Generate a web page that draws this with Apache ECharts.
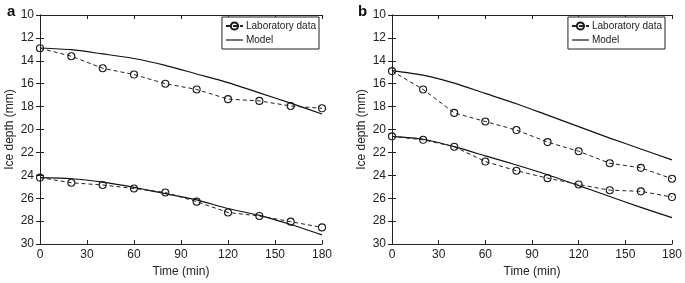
<!DOCTYPE html>
<html>
<head>
<meta charset="utf-8">
<script src="https://cdn.jsdelivr.net/npm/echarts@6/dist/echarts.min.js"></script>
<style>
  html, body { margin: 0; padding: 0; background: #fff; }
  #chart { width: 685px; height: 283px; }
</style>
</head>
<body>
<div id="chart"></div>
<script>
// time of each measurement (min)
var times = [0, 20, 40, 60, 80, 100, 120, 140, 160, 180];
var xTicks = [0, 30, 60, 90, 120, 150, 180];
var yTicks = [10, 12, 14, 16, 18, 20, 22, 24, 26, 28, 30];

// panel a
var labA1   = [12.9, 13.6, 14.65, 15.2, 16.0, 16.5, 17.35, 17.5, 17.95, 18.15];
var modelA1 = [12.88, 13.03, 13.4, 13.8, 14.4, 15.15, 15.9, 16.8, 17.7, 18.65];
var labA2   = [24.2, 24.65, 24.85, 25.15, 25.5, 26.3, 27.25, 27.55, 28.05, 28.55];
var modelA2 = [24.2, 24.3, 24.6, 25.05, 25.6, 26.15, 26.9, 27.5, 28.3, 29.2];

// panel b
var labB1   = [14.9, 16.5, 18.55, 19.3, 20.05, 21.1, 21.9, 22.95, 23.35, 24.3];
var modelB1 = [14.85, 15.25, 15.95, 16.85, 17.75, 18.75, 19.75, 20.75, 21.7, 22.65];
var labB2   = [20.6, 20.9, 21.5, 22.8, 23.6, 24.25, 24.8, 25.3, 25.4, 25.9];
var modelB2 = [20.6, 20.85, 21.5, 22.3, 23.1, 23.95, 24.9, 25.85, 26.8, 27.7];

var font = '"Liberation Sans", Arial, sans-serif';

function pairs(ys) {
    var out = [];
    for (var i = 0; i < times.length; i++) {
        out.push([times[i], ys[i]]);
    }
    return out;
}

function labSeries(ys, idx) {
    return {
        name: 'Laboratory data',
        type: 'line',
        xAxisIndex: idx * 2,
        yAxisIndex: idx * 2,
        data: pairs(ys),
        symbol: 'circle',
        symbolSize: 7,
        showSymbol: true,
        itemStyle: { color: 'rgba(255,255,255,0)', borderColor: '#1a1a1a', borderWidth: 1.1 },
        lineStyle: { color: '#222', width: 1, type: [4, 3] },
        color: '#222',
        animation: false,
        z: 3
    };
}

function modelSeries(ys, idx) {
    return {
        name: 'Model',
        type: 'line',
        xAxisIndex: idx * 2,
        yAxisIndex: idx * 2,
        data: pairs(ys),
        symbol: 'none',
        smooth: 0.25,
        lineStyle: { color: '#111', width: 1.2 },
        itemStyle: { color: '#111' },
        color: '#111',
        animation: false,
        z: 2
    };
}

function xAxes(gridIdx) {
    return [{
        type: 'value', gridIndex: gridIdx, min: 0, max: 180, interval: 30,
        name: 'Time (min)', nameLocation: 'middle', nameGap: 22,
        nameTextStyle: { fontFamily: font, fontSize: 12, color: '#222' },
        axisLine: { lineStyle: { color: '#222', width: 1 } },
        axisTick: { inside: true, length: 4, lineStyle: { color: '#222' } },
        axisLabel: { fontFamily: font, fontSize: 12, color: '#222', margin: 5 },
        splitLine: { show: false }
    }, {
        type: 'value', gridIndex: gridIdx, min: 0, max: 180, interval: 30, position: 'top',
        axisLine: { lineStyle: { color: '#222', width: 1 } },
        axisTick: { inside: true, length: 4, lineStyle: { color: '#222' } },
        axisLabel: { show: false },
        splitLine: { show: false }
    }];
}

function yAxes(gridIdx) {
    return [{
        type: 'value', gridIndex: gridIdx, min: 10, max: 30, interval: 2, inverse: true,
        name: 'Ice depth (mm)', nameLocation: 'middle', nameGap: 24,
        nameTextStyle: { fontFamily: font, fontSize: 12, color: '#222' },
        axisLine: { show: true, lineStyle: { color: '#222', width: 1 } },
        axisTick: { show: true, inside: true, length: 4, lineStyle: { color: '#222' } },
        axisLabel: { fontFamily: font, fontSize: 12, color: '#222', margin: 6 },
        splitLine: { show: false }
    }, {
        type: 'value', gridIndex: gridIdx, min: 10, max: 30, interval: 2, inverse: true, position: 'right',
        axisLine: { show: true, lineStyle: { color: '#222', width: 1 } },
        axisTick: { show: true, inside: true, length: 4, lineStyle: { color: '#222' } },
        axisLabel: { show: false },
        splitLine: { show: false }
    }];
}

function legendBox(right) {
    return {
        orient: 'vertical',
        right: right,
        top: 17,
        data: [
            { name: 'Laboratory data' },
            { name: 'Model', icon: 'line', itemStyle: { borderColor: '#111', borderWidth: 1.2, color: '#111' } }
        ],
        backgroundColor: '#fff',
        borderColor: '#222',
        borderWidth: 1,
        borderRadius: 0,
        padding: [4, 3, 4, 3],
        itemGap: 4,
        itemWidth: 17,
        itemHeight: 9,
        selectedMode: false,
        textStyle: { fontFamily: font, fontSize: 10, color: '#222', padding: [0, 0, 0, -2] }
    };
}

var dom = document.getElementById('chart');
var myChart = echarts.init(dom);

var option = {
    backgroundColor: '#fff',
    animation: false,
    title: [
        { text: 'a', left: 2, top: -1, textStyle: { fontFamily: font, fontSize: 15, fontWeight: 'bold', color: '#111' } },
        { text: 'b', left: 353, top: -1, textStyle: { fontFamily: font, fontSize: 15, fontWeight: 'bold', color: '#111' } }
    ],
    grid: [
        { left: 40, right: 363, top: 15, bottom: 37 },
        { left: 392, right: 12, top: 15, bottom: 37 }
    ],
    legend: [legendBox(366), legendBox(20)],
    xAxis: xAxes(0).concat(xAxes(1)),
    yAxis: yAxes(0).concat(yAxes(1)),
    series: [
        modelSeries(modelA1, 0),
        modelSeries(modelA2, 0),
        labSeries(labA1, 0),
        labSeries(labA2, 0),
        modelSeries(modelB1, 1),
        modelSeries(modelB2, 1),
        labSeries(labB1, 1),
        labSeries(labB2, 1)
    ]
};

if (option && typeof option === "object") {
    myChart.setOption(option, true);
}
</script>
</body>
</html>
